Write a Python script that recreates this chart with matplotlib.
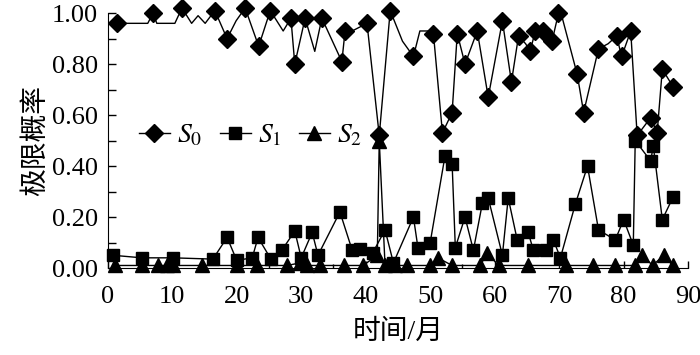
import numpy as np
import matplotlib
matplotlib.use('Agg')
import matplotlib.pyplot as plt
from matplotlib.ticker import MultipleLocator

plt.rcParams['font.family'] = ['Liberation Serif', 'Noto Sans CJK SC']
plt.rcParams['mathtext.fontset'] = 'stix'

# 极限概率 S0（marked 为带标记的点序号，其余为折线拐点）
s0_x = [1.4, 6.2, 7.0, 7.6, 10.4, 11.5, 13.0, 14.0, 15.1, 16.6, 18.5, 19.9,
        21.3, 23.4, 25.2, 27.2, 28.4, 29.0, 30.6, 32.1, 33.2, 36.3, 36.8,
        37.9, 40.2, 42.1, 43.8, 45.7, 47.4, 48.4, 49.7, 50.5, 51.9, 53.4,
        54.2, 55.4, 57.3, 59.0, 61.2, 62.6, 63.7, 64.8, 65.5, 66.3, 67.5,
        68.9, 69.9, 70.5, 72.8, 73.8, 76.1, 77.6, 78.9, 79.7, 81.1, 82.1,
        84.2, 85.2, 86.0, 87.7]
s0_y = [0.96, 0.96, 1.00, 0.96, 0.96, 1.02, 0.96, 0.99, 0.96, 1.01, 0.90, 0.97,
        1.02, 0.87, 1.01, 0.93, 0.98, 0.80, 0.98, 0.85, 0.98, 0.81, 0.93,
        0.93, 0.96, 0.52, 1.01, 0.89, 0.83, 0.93, 0.93, 0.92, 0.53, 0.61,
        0.92, 0.80, 0.93, 0.67, 0.97, 0.73, 0.91, 0.88, 0.85, 0.93, 0.93,
        0.89, 1.00, 0.98, 0.76, 0.61, 0.86, 0.88, 0.91, 0.83, 0.93, 0.52,
        0.59, 0.53, 0.78, 0.71]
s0_marked = [0, 2, 5, 9, 10, 12, 13, 14, 16, 17, 18, 20, 21, 22, 24, 25, 26,
             28, 31, 32, 33, 34, 35, 36, 37, 38, 39, 40, 42, 43, 44, 45, 46,
             48, 49, 50, 52, 53, 54, 55, 56, 57, 58, 59]

# 极限概率 S1
s1_x = [0.8, 5.3, 10.1, 16.3, 18.5, 20.0, 22.4, 23.3, 25.3, 27.0, 29.0, 30.0,
        31.7, 32.6, 36.0, 37.9, 39.1, 41.1, 43.0, 44.3, 47.4, 48.1, 50.0,
        52.3, 53.4, 53.9, 55.4, 56.7, 58.1, 59.0, 61.2, 62.1, 63.5, 65.2,
        66.0, 67.9, 69.1, 70.2, 72.5, 74.4, 76.1, 78.7, 80.0, 81.5, 81.8,
        84.2, 84.6, 86.0, 87.7]
s1_y = [0.05, 0.04, 0.04, 0.035, 0.12, 0.03, 0.04, 0.12, 0.035, 0.07, 0.145,
        0.04, 0.14, 0.05, 0.22, 0.07, 0.075, 0.06, 0.15, 0.02, 0.20, 0.08,
        0.10, 0.44, 0.41, 0.08, 0.20, 0.07, 0.255, 0.275, 0.05, 0.275, 0.11,
        0.14, 0.07, 0.07, 0.11, 0.04, 0.25, 0.40, 0.15, 0.11, 0.19, 0.09,
        0.50, 0.42, 0.48, 0.19, 0.28]

# 极限概率 S2
s2_x = [1.1, 5.3, 7.8, 9.2, 10.1, 14.6, 20.0, 23.1, 27.8, 29.8, 30.9, 32.9,
        36.6, 39.6, 41.8, 42.1, 43.0, 44.6, 46.4, 50.0, 51.2, 53.4, 57.8,
        58.8, 60.6, 65.2, 71.0, 75.3, 78.7, 81.8, 82.9, 84.5, 86.2, 87.6]
s2_y = [0.01, 0.01, 0.01, 0.01, 0.01, 0.01, 0.01, 0.01, 0.01, 0.02, 0.01,
        0.01, 0.01, 0.01, 0.05, 0.50, 0.01, 0.01, 0.01, 0.01, 0.04, 0.01,
        0.01, 0.06, 0.01, 0.01, 0.01, 0.01, 0.01, 0.01, 0.05, 0.01, 0.05,
        0.01]

fig = plt.figure(figsize=(7, 3.55), dpi=100)
ax = fig.add_axes([0.154, 0.245, 0.829, 0.718])

ax.plot(s0_x, s0_y, color='black', lw=1.0, marker='D', ms=9,
        markevery=s0_marked, label='$S_0$', clip_on=False)
ax.plot(s1_x, s1_y, color='black', lw=1.0, marker='s', ms=9,
        label='$S_1$', clip_on=False)
ax.plot(s2_x, s2_y, color='black', lw=1.0, marker='^', ms=10,
        label='$S_2$', clip_on=False)

ax.set_xlim(0, 90)
ax.set_ylim(0, 1.0)
ax.xaxis.set_major_locator(MultipleLocator(10))
ax.xaxis.set_minor_locator(MultipleLocator(5))
ax.yaxis.set_major_locator(MultipleLocator(0.2))
ax.yaxis.set_minor_locator(MultipleLocator(0.1))
ax.yaxis.set_major_formatter(matplotlib.ticker.FormatStrFormatter('%.2f'))
ax.tick_params(which='both', direction='in', labelsize=19, width=1.0)
ax.tick_params(axis='y', which='both', length=6, pad=7)
ax.tick_params(axis='x', which='major', length=5, pad=13)
ax.tick_params(axis='x', which='minor', length=3)
ax.spines['top'].set_visible(False)
ax.spines['right'].set_visible(False)

ax.set_xlabel('时间/月', fontsize=20, labelpad=8)
ax.set_ylabel('极限概率', fontsize=20, labelpad=2)

ax.legend(loc='center left', bbox_to_anchor=(0.035, 0.52), ncol=3,
          frameon=False, fontsize=20, handlelength=1.1, handletextpad=0.25,
          columnspacing=0.65, borderaxespad=0)

fig.savefig('out.png', dpi=100)
